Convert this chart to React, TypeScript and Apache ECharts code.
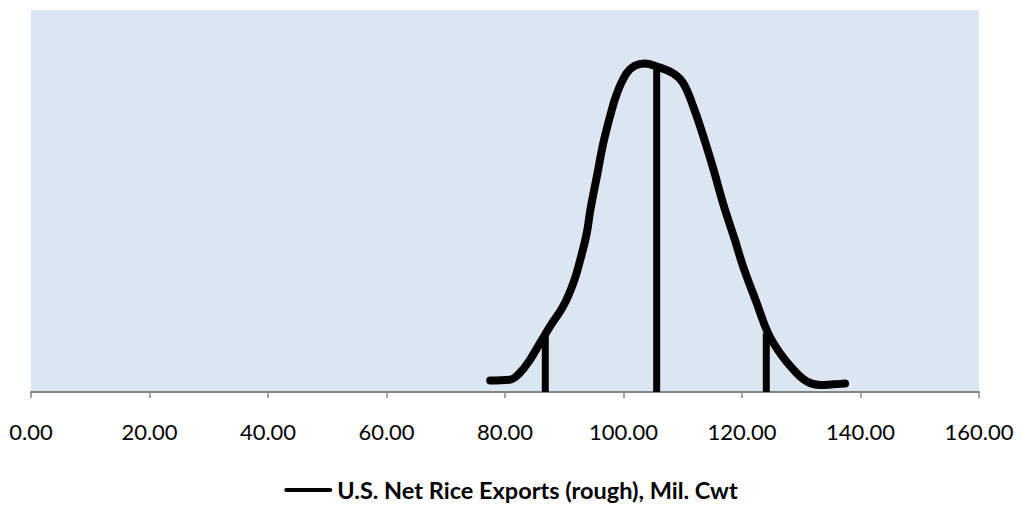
import React, { useEffect, useRef } from "react";
import * as echarts from "echarts";

// Estimated probability density of U.S. net rice exports (rough), Mil. Cwt
const exportValues = [
  77.5, 80.8, 82.5, 84.2, 85.9, 87.6, 89.8, 91.5, 92.7, 93.8, 94.4, 95.5, 96.6,
  97.7, 98.9, 100.5, 101.9, 103.6, 105.6, 108.4, 110.1, 111.8, 113.5, 115.2,
  116.8, 118.8, 120.2, 122.5, 124.4, 126.4, 128.7, 130.9, 133.2, 135.4, 137.4,
];
const densityValues = [
  0.0015, 0.0016, 0.0025, 0.0042, 0.0064, 0.0086, 0.0112, 0.0142, 0.0173, 0.0208,
  0.0238, 0.0282, 0.0326, 0.036, 0.0391, 0.0417, 0.0427, 0.043, 0.0426, 0.0417,
  0.0404, 0.0373, 0.0334, 0.0291, 0.0247, 0.0199, 0.0164, 0.0116, 0.0077, 0.0051,
  0.0029, 0.0014, 0.0009, 0.001, 0.0011,
];

// Marker lines: lower bound, mean, upper bound, with the density at each
const markerValues = [86.8, 105.6, 124.1];
const markerDensities = [0.0075, 0.0424, 0.0077];

const seriesName = "U.S. Net Rice Exports (rough), Mil. Cwt";
const xTicks = [0, 20, 40, 60, 80, 100, 120, 140, 160];

export default function App() {
  const ref = useRef<HTMLDivElement>(null);

  useEffect(() => {
    if (!ref.current) return;
    const chart = echarts.init(ref.current, undefined, { renderer: "svg" });

    const curve = exportValues.map((x, i) => [x, densityValues[i]]);
    const markerSeries = markerValues.map((x, i) => ({
      type: "line" as const,
      name: "marker" + i,
      data: [
        [x, 0],
        [x, markerDensities[i]],
      ],
      showSymbol: false,
      symbol: "none",
      lineStyle: { color: "#000", width: 7, cap: "butt" as const },
      z: 3,
    }));

    chart.setOption({
      animation: false,
      textStyle: { fontFamily: "Lato" },
      grid: {
        left: 31,
        right: 43,
        top: 10,
        bottom: 129,
        show: true,
        backgroundColor: "#dce6f2",
        borderWidth: 0,
      },
      legend: {
        data: [
          {
            name: seriesName,
            icon: "path://M2,0 L48,0 A2,2 0 0 1 48,4 L2,4 A2,2 0 0 1 2,0 Z",
          },
        ],
        bottom: 14,
        left: "center",
        itemWidth: 48,
        itemHeight: 5,
        itemGap: 4,
        textStyle: {
          fontFamily: "Lato",
          fontWeight: "bold",
          fontSize: 23.5,
          color: "#000",
        },
        selectedMode: false,
      },
      xAxis: {
        type: "value",
        min: xTicks[0],
        max: xTicks[xTicks.length - 1],
        interval: 20,
        axisLine: { show: true, lineStyle: { color: "#868686", width: 2 } },
        axisTick: { show: true, length: 6, lineStyle: { color: "#868686", width: 1.5 } },
        splitLine: { show: false },
        axisLabel: {
          margin: 28,
          fontSize: 22,
          fontFamily: "Lato",
          color: "#000",
          formatter: (v: number) => v.toFixed(2),
        },
      },
      yAxis: {
        type: "value",
        min: 0,
        max: 0.05,
        show: false,
        splitLine: { show: false },
      },
      series: [
        {
          type: "line",
          name: seriesName,
          data: curve,
          smooth: 0.4,
          showSymbol: false,
          symbol: "none",
          itemStyle: { color: "#000" },
          lineStyle: { color: "#000", width: 8, cap: "round", join: "round" },
          z: 4,
        },
        ...markerSeries,
      ],
    });

    return () => chart.dispose();
  }, []);

  return <div ref={ref} style={{ width: 1022, height: 521, margin: -8 }} />;
}
